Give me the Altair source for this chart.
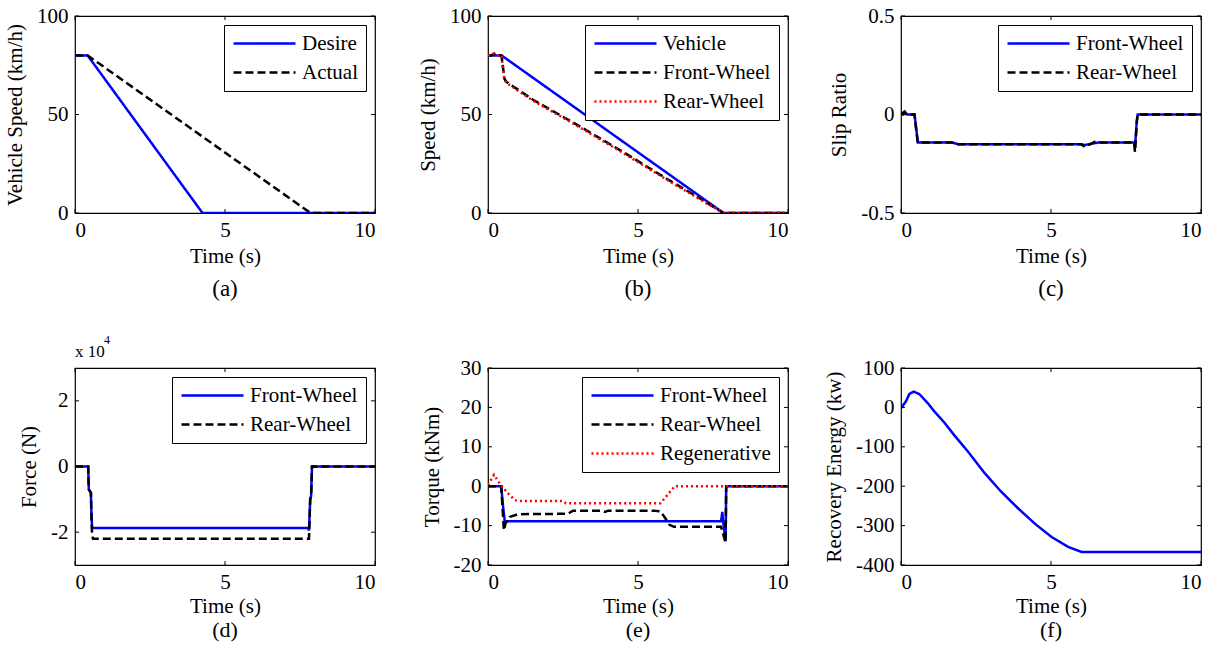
import altair as alt
import pandas as pd

FONT = "Liberation Serif"
W, H = 300, 197
BLUE, BLACK, RED = "#0000ff", "#000000", "#ff0000"
SOLID, DASH, DOT = [1, 0], [8, 4], [2, 3]
X_TICKS = [0, 5, 10]
FS = 21

# (a) vehicle speed, km/h
a_desire_t = [0, 0.42, 4.25, 10]
a_desire_v = [80, 80, 0, 0]
a_actual_t = [0, 0.42, 7.85, 10]
a_actual_v = [80, 80, 0, 0]

# (b) vehicle and wheel speeds, km/h
b_vehicle_t = [0, 0.45, 7.85, 10]
b_vehicle_v = [80, 80, 0, 0]
b_wheel_t = [0, 0.12, 0.2, 0.3, 0.45, 0.5, 0.55, 0.62, 1.5, 3.0, 4.5, 6.0, 7.0, 7.85, 10]
b_front_v = [80, 80, 80.8, 80, 80, 74, 68, 66.5, 57.5, 44.5, 31, 17, 8, 0, 0]
b_rear_v = [80, 80.5, 81, 80, 80, 73, 67.5, 66, 57, 44, 30.5, 16.5, 7.5, 0, 0]

# (c) slip ratio
c_t = [0, 0.08, 0.12, 0.2, 0.45, 0.5, 0.56, 1.7, 1.9, 6.0, 6.13, 6.3, 6.46, 6.6,
       7.77, 7.8, 7.86, 7.89, 10]
c_front_v = [0, 0, 0.005, 0, 0, -0.06, -0.142, -0.142, -0.151, -0.151, -0.155, -0.15,
             -0.145, -0.142, -0.142, -0.17, -0.03, 0, 0]
c_rear_v = [0, 0.01, 0.015, 0, 0, -0.07, -0.142, -0.142, -0.151, -0.151, -0.164, -0.152,
            -0.139, -0.142, -0.142, -0.19, -0.04, 0, 0]

# (d) braking force, x 10^4 N
d_t = [0, 0.44, 0.46, 0.53, 0.55, 0.57, 0.6, 7.77, 7.8, 7.84, 7.87, 7.9, 10]
d_front_v = [0, 0, -0.7, -0.8, -1.5, -1.85, -1.87, -1.87, -1.95, -1.0, -0.9, 0, 0]
d_rear_v = [0, 0, -0.7, -0.8, -1.6, -2.1, -2.2, -2.2, -2.2, -1.0, -0.9, 0, 0]

# (e) torque, kNm
e_front_t = [0, 0.44, 0.5, 0.56, 7.77, 7.81, 7.84, 7.92, 7.94, 10]
e_front_v = [0, 0, -5, -8.9, -8.9, -6.5, -9, -14, 0, 0]
e_rear_t = [0, 0.44, 0.48, 0.53, 0.58, 0.72, 1.0, 2.67, 2.83, 3.8, 3.9, 4.0, 5.5, 5.75,
            5.9, 6.05, 6.2, 7.77, 7.92, 7.94, 10]
e_rear_v = [0, 0, -5, -11.2, -9.5, -7.8, -7.1, -7.0, -6.2, -6.2, -6.5, -6.2, -6.2, -6.4,
            -8, -9.8, -10.3, -10.3, -14.3, 0, 0]
e_regen_t = [0, 0.2, 0.45, 0.72, 0.89, 1.0, 2.5, 2.6, 5.75, 6.22, 10]
e_regen_v = [0.3, 2.9, 0, -2.2, -3.5, -3.75, -3.75, -4.35, -4.35, 0, 0]

# (f) recovery energy, kw
f_t = [0, 0.17, 0.28, 0.42, 0.61, 0.89, 1.11, 1.45, 1.78, 2.23, 2.79, 3.34, 3.9,
       4.46, 5.02, 5.57, 6.02, 10]
f_v = [-2, 16, 34, 40, 34, 11, -10, -39, -71, -112, -167, -214, -256, -295, -329,
       -354, -367, -367]

LABEL_EXPR = "'' + datum.value"


def legend_spec():
    # a long horizontal line glyph drawn with a small layout size keeps rows compact
    return alt.Legend(
        title=None, orient="top-right", offset=9, padding=8,
        labelFont=FONT, labelFontSize=FS, labelColor="black",
        labelOffset=27, rowPadding=7, labelLimit=300,
        symbolType="M-6.2,0H6.2", symbolSize=100, symbolStrokeWidth=2.5,
        symbolOffset=22,
        strokeColor="black", fillColor="white", cornerRadius=0,
    )


def panel(series, ydom, yticks, ytitle, caption, row, extra=None):
    time_pad, cap_offset, cap_size = (5, 12, 23) if row == 1 else (3, 4, 22)
    x_enc = alt.X("t:Q", scale=alt.Scale(domain=[0, 10], nice=False, zero=False),
                  axis=alt.Axis(values=X_TICKS, title="Time (s)", labelExpr=LABEL_EXPR,
                                labelPadding=6, titlePadding=time_pad))
    y_enc = alt.Y("v:Q", scale=alt.Scale(domain=ydom, nice=False, zero=False),
                  axis=alt.Axis(values=yticks, title=ytitle, labelExpr=LABEL_EXPR,
                                labelPadding=7, titlePadding=11))
    names = [s[0] for s in series]
    colors = [s[3] for s in series]
    dashes = [s[4] for s in series]
    layers = []
    for name, t, v, col, dash in series:
        df = pd.DataFrame({"t": t, "v": v, "series": name})
        if len(series) > 1:
            enc = dict(
                color=alt.Color("series:N", scale=alt.Scale(domain=names, range=colors),
                                legend=legend_spec()),
                strokeDash=alt.StrokeDash("series:N",
                                          scale=alt.Scale(domain=names, range=dashes),
                                          legend=legend_spec()),
            )
            mark = alt.Chart(df).mark_line(strokeWidth=2.5, clip=True)
        else:
            enc = {}
            mark = alt.Chart(df).mark_line(strokeWidth=2.5, color=col, clip=True)
        layers.append(mark.encode(x=x_enc, y=y_enc, **enc))

    # inward tick marks on all four sides of the box
    xt = pd.DataFrame({"t": X_TICKS})
    yt = pd.DataFrame({"v": yticks})
    tick = dict(color="black", strokeWidth=1)
    layers += [
        alt.Chart(xt).mark_rule(**tick).encode(x=x_enc, y=alt.value(H), y2=alt.value(H - 4)),
        alt.Chart(xt).mark_rule(**tick).encode(x=x_enc, y=alt.value(0), y2=alt.value(4)),
        alt.Chart(yt).mark_rule(**tick).encode(y=y_enc, x=alt.value(0), x2=alt.value(4)),
        alt.Chart(yt).mark_rule(**tick).encode(y=y_enc, x=alt.value(W), x2=alt.value(W - 4)),
    ]
    if extra:
        layers += extra
    return alt.layer(*layers).properties(
        width=W, height=H,
        title=alt.TitleParams(caption, orient="bottom", frame="group", anchor="middle",
                              offset=cap_offset, fontSize=cap_size, font=FONT,
                              fontWeight="normal", color="black"),
    )


pa = panel([("Desire", a_desire_t, a_desire_v, BLUE, SOLID),
            ("Actual", a_actual_t, a_actual_v, BLACK, DASH)],
           [0, 100], [0, 50, 100], "Vehicle Speed (km/h)", "(a)", 1)

pb = panel([("Vehicle", b_vehicle_t, b_vehicle_v, BLUE, SOLID),
            ("Front-Wheel", b_wheel_t, b_front_v, BLACK, DASH),
            ("Rear-Wheel", b_wheel_t, b_rear_v, RED, DOT)],
           [0, 100], [0, 50, 100], "Speed (km/h)", "(b)", 1)

pc = panel([("Front-Wheel", c_t, c_front_v, BLUE, SOLID),
            ("Rear-Wheel", c_t, c_rear_v, BLACK, DASH)],
           [-0.5, 0.5], [-0.5, 0, 0.5], "Slip Ratio", "(c)", 1)

# exponent note above the force axis
exp_base = alt.Chart(pd.DataFrame({"s": ["x 10"]})).mark_text(
    font=FONT, fontSize=17, align="left", baseline="alphabetic", color="black"
).encode(text="s:N", x=alt.value(0), y=alt.value(-11))
exp_pow = alt.Chart(pd.DataFrame({"s": ["4"]})).mark_text(
    font=FONT, fontSize=12, align="left", baseline="alphabetic", color="black"
).encode(text="s:N", x=alt.value(29), y=alt.value(-24))

pd_ = panel([("Front-Wheel", d_t, d_front_v, BLUE, SOLID),
             ("Rear-Wheel", d_t, d_rear_v, BLACK, DASH)],
            [-3, 3], [-2, 0, 2], "Force (N)", "(d)", 2, extra=[exp_base, exp_pow])

pe = panel([("Front-Wheel", e_front_t, e_front_v, BLUE, SOLID),
            ("Rear-Wheel", e_rear_t, e_rear_v, BLACK, DASH),
            ("Regenerative", e_regen_t, e_regen_v, RED, DOT)],
           [-20, 30], [-20, -10, 0, 10, 20, 30], "Torque (kNm)", "(e)", 2)

pf = panel([("Recovery", f_t, f_v, BLUE, SOLID)],
           [-400, 100], [-400, -300, -200, -100, 0, 100], "Recovery Energy (kw)", "(f)", 2)

chart = alt.concat(
    pa, pb, pc, pd_, pe, pf, columns=3, bounds="flush",
    spacing={"row": 155, "column": 113},
).resolve_scale(
    x="independent", y="independent", color="independent", strokeDash="independent"
).resolve_legend(
    color="independent", strokeDash="independent"
).properties(
    padding={"left": 3, "top": 4, "right": 2, "bottom": 2},
    background="white",
).configure(
    font=FONT,
).configure_axis(
    labelFont=FONT, titleFont=FONT, labelFontSize=FS, titleFontSize=FS,
    labelColor="black", titleColor="black", titleFontWeight="normal",
    grid=False, ticks=False, tickSize=0, domain=False,
).configure_view(
    stroke="black", strokeWidth=1.2,
)

chart.save("out.html", embed_options={"renderer": "svg", "actions": False})
